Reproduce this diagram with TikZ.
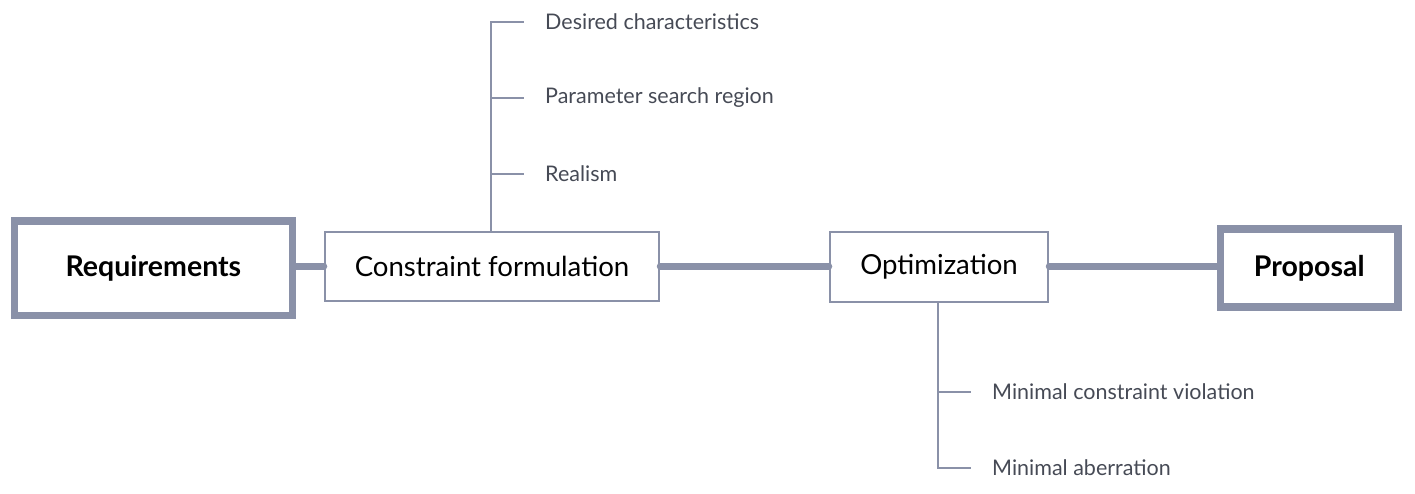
\documentclass[tikz,border=0pt]{standalone}
\usepackage{fontspec}
\setmainfont{Lato}
\definecolor{linec}{HTML}{8A91A8}
\definecolor{subtxt}{HTML}{464A55}
\begin{document}
\begin{tikzpicture}[x=1pt,y=-1pt,
  mainbox/.style={draw=linec,line width=7.5pt,fill=white,inner sep=0pt,font=\fontsize{28.5}{32}\selectfont\bfseries,text=black},
  stepbox/.style={draw=linec,line width=2.5pt,fill=white,inner sep=0pt,font=\fontsize{27.6}{32}\selectfont,text=black},
  bigline/.style={draw=linec,line width=7pt,line cap=round},
  thinline/.style={draw=linec,line width=1.5pt},
  sublabel/.style={anchor=west,inner sep=0pt,font=\fontsize{21.5}{26}\selectfont,text=subtxt}]
\useasboundingbox (0,0) rectangle (1415,494);
\node[mainbox,minimum width=277.8pt,minimum height=94.5pt] (req) at (153.4,268.25) {Requirements};
\node[stepbox,minimum width=334pt,minimum height=69pt] (cf) at (492,266.5) {Constraint formulation};
\node[stepbox,minimum width=218pt,minimum height=70pt] (opt) at (939,267) {Optimization};
\node[mainbox,minimum width=177.5pt,minimum height=78pt] (prop) at (1309.25,268) {Proposal};
\draw[bigline] (req.east |- 0,266) -- (cf.west |- 0,266);
\draw[bigline] (cf.east |- 0,266) -- (opt.west |- 0,266);
\draw[bigline] (opt.east |- 0,266) -- (prop.west |- 0,266);
% upper tree
\coordinate (ut) at (491,22);
\node[sublabel] (d1) at (545,22) {Desired characteristics};
\node[sublabel] (d2) at (545,98) {Parameter search region};
\node[sublabel] (d3) at (545,174) {Realism};
\draw[thinline] (cf.north -| ut) -- (ut) -- (d1.west -| 524,0);
\draw[thinline] (d2.west -| ut) -- (d2.west -| 524,0);
\draw[thinline] (d3.west -| ut) -- (d3.west -| 524,0);
% lower tree
\coordinate (lt) at (938,468);
\node[sublabel] (m1) at (992,392) {Minimal constraint violation};
\node[sublabel] (m2) at (992,468) {Minimal aberration};
\draw[thinline] (opt.south -| lt) -- (lt) -- (m2.west -| 971,0);
\draw[thinline] (m1.west -| lt) -- (m1.west -| 971,0);
\end{tikzpicture}
\end{document}
